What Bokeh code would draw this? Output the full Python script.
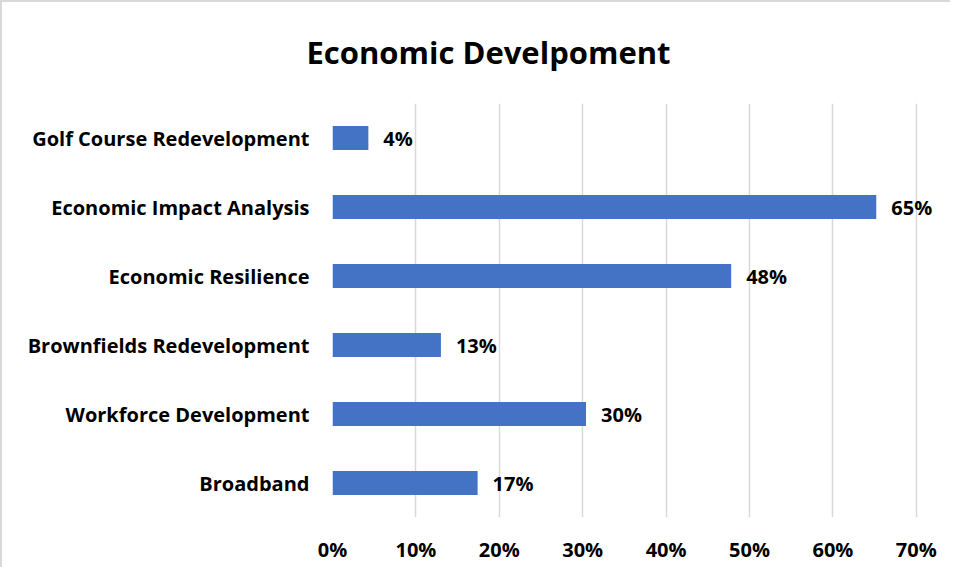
from bokeh.plotting import figure
from bokeh.models import ColumnDataSource, NumeralTickFormatter, FixedTicker, Title
from bokeh.core.properties import value
from bokeh.embed import file_html
from bokeh.resources import INLINE

title_text = "Economic Develpoment"
categories = ["Broadband", "Workforce Development", "Brownfields Redevelopment",
              "Economic Resilience", "Economic Impact Analysis", "Golf Course Redevelopment"]
values = [0.174, 0.304, 0.13, 0.478, 0.652, 0.043]
tick_values = [0.0, 0.1, 0.2, 0.3, 0.4, 0.5, 0.6, 0.7]

labels = [f"{round(v * 100):.0f}%" for v in values]
source = ColumnDataSource(dict(cat=categories, val=values, lab=labels))

FONT = "Open Sans"

p = figure(width=950, height=567, y_range=categories, x_range=(0, 0.7434),
           output_backend="svg", toolbar_location=None, title=None,
           min_border_left=330, min_border_right=0, min_border_top=101, min_border_bottom=52)

p.add_layout(Title(text=title_text, align="left", offset=-26, standoff=57,
                   vertical_align="top",
                   text_font=FONT, text_font_size="31px", text_font_style="bold",
                   text_color="black"), "above")

p.hbar(y="cat", right="val", left=0, height=0.35, source=source,
       fill_color="#4472C4", line_color=None)

p.text(x="val", y="cat", text="lab", source=source, x_offset=15,
       text_font=value(FONT), text_font_size="20px", text_font_style="bold",
       text_color="black", text_baseline="middle", text_align="left")

p.outline_line_color = None
p.background_fill_color = "white"
p.border_fill_color = "white"
p.styles = {"border-top": "2px solid #d9d9d9", "border-left": "2px solid #d9d9d9"}

p.ygrid.grid_line_color = None
p.xgrid.grid_line_color = "#d9d9d9"
p.xgrid.grid_line_width = 1.5

p.xaxis.ticker = FixedTicker(ticks=tick_values)
p.xaxis.formatter = NumeralTickFormatter(format="0%")
for ax in (p.xaxis, p.yaxis):
    ax.axis_line_color = None
    ax.major_tick_line_color = None
    ax.minor_tick_line_color = None
    ax.major_tick_out = 0
    ax.major_tick_in = 0
    ax.major_label_text_font = FONT
    ax.major_label_text_font_size = "20px"
    ax.major_label_text_font_style = "bold"
    ax.major_label_text_color = "black"
p.xaxis.major_label_standoff = 18
p.yaxis.major_label_standoff = 23

open("out.html", "w").write(file_html(p, INLINE))
